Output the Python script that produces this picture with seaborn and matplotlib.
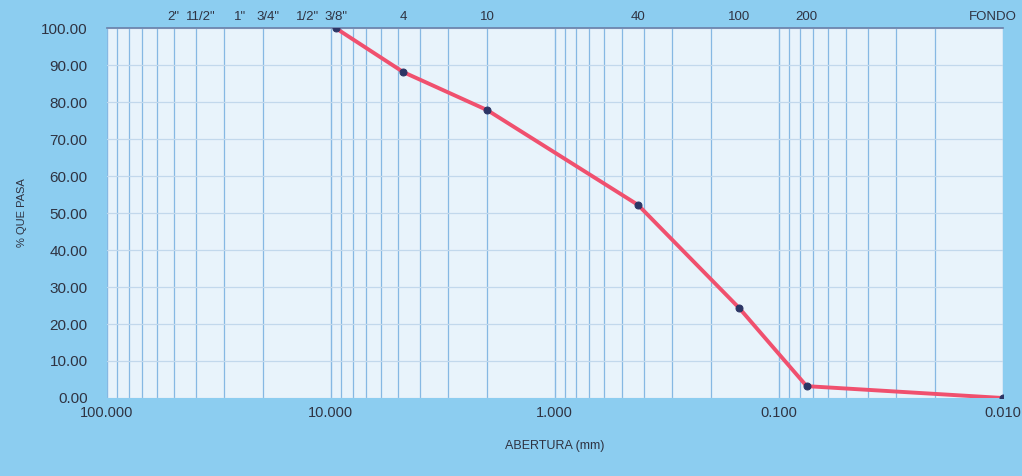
import numpy as np
import pandas as pd
import matplotlib
matplotlib.use('Agg')
import matplotlib.pyplot as plt
import matplotlib.transforms as mtransforms
import seaborn as sns
from matplotlib.ticker import FixedLocator, LogLocator, NullFormatter

# ── Data ──────────────────────────────────────────────────────────────────────
abertura_mm = [9.525, 4.75, 2.00, 0.425, 0.150, 0.075, 0.010]
pct_pasa    = [100.0, 88.1, 77.8, 52.2, 24.3, 3.2, 0.0]

tamiz_mm    = [50.8, 38.1, 25.4, 19.05, 12.7, 9.525, 4.75, 2.00, 0.425, 0.150, 0.075, 0.010]
tamiz_label = ['2"', '11/2"', '1"', '3/4"', '1/2"', '3/8"', '4', '10', '40', '100', '200', 'FONDO']

x_ticks = [100, 10, 1, 0.1, 0.01]
y_ticks = list(range(0, 101, 10))

df = pd.DataFrame({'abertura': abertura_mm, 'pasa': pct_pasa})

# ── Style ─────────────────────────────────────────────────────────────────────
BG_OUT  = '#8ccdf0'
BG_IN   = '#e8f3fb'
GRID_V  = '#86b8e3'
GRID_H  = '#c2d8ec'
LINE    = '#f0506e'
MARK    = '#2c3565'
TXT     = '#2f3342'

sns.set_theme(style='white')
plt.rcParams['font.family'] = ['Liberation Sans', 'DejaVu Sans']

fig = plt.figure(figsize=(10.22, 4.76), dpi=100, facecolor=BG_OUT)
ax = fig.add_axes([0.1047, 0.1639, 0.8763, 0.7771])
ax.set_facecolor(BG_IN)

sns.lineplot(data=df, x='abertura', y='pasa', ax=ax, color=LINE, linewidth=2.8,
             marker='o', markersize=5, markerfacecolor=MARK, markeredgecolor=MARK,
             zorder=5)

ax.set_xscale('log')
ax.set_xlim(100, 0.01)
ax.set_ylim(0, 100)

ax.xaxis.set_major_locator(FixedLocator(x_ticks))
ax.xaxis.set_minor_locator(LogLocator(base=10, subs=np.arange(2, 10)))
ax.xaxis.set_minor_formatter(NullFormatter())
ax.set_xticks(x_ticks)
ax.set_xticklabels([f'{v:.3f}' for v in x_ticks])
ax.set_yticks(y_ticks)
ax.set_yticklabels([f'{v:.2f}' for v in y_ticks])

ax.grid(which='major', axis='x', color=GRID_V, linewidth=1.0)
ax.grid(which='minor', axis='x', color=GRID_V, linewidth=0.9)
ax.grid(which='major', axis='y', color=GRID_H, linewidth=0.9)
ax.set_axisbelow(True)

ax.tick_params(axis='both', which='both', length=0, colors=TXT)
ax.tick_params(axis='y', labelsize=11, pad=14)
ax.tick_params(axis='x', labelsize=10.5, pad=6)

for s in ['left', 'right', 'bottom']:
    ax.spines[s].set_visible(False)
ax.spines['top'].set_color('#6a7fa8')
ax.spines['top'].set_linewidth(1.2)

ax.set_xlabel('ABERTURA (mm)', fontsize=9, color=TXT, labelpad=14)
ax.set_ylabel('% QUE PASA', fontsize=8, color=TXT, labelpad=10)

# ── Sieve labels on top ───────────────────────────────────────────────────────
top = ax.secondary_xaxis('top')
top.set_xticks(tamiz_mm)
top.set_xticklabels(tamiz_label)
top.tick_params(length=0, labelsize=9.5, colors=TXT, pad=4)
top.xaxis.set_minor_locator(FixedLocator([]))
top.spines['top'].set_visible(False)

# keep FONDO inside the figure
fondo = top.get_xticklabels()[-1]
fondo.set_transform(fondo.get_transform() +
                    mtransforms.ScaledTranslation(-0.1, 0, fig.dpi_scale_trans))

fig.savefig('out.png', dpi=100, facecolor=BG_OUT)
